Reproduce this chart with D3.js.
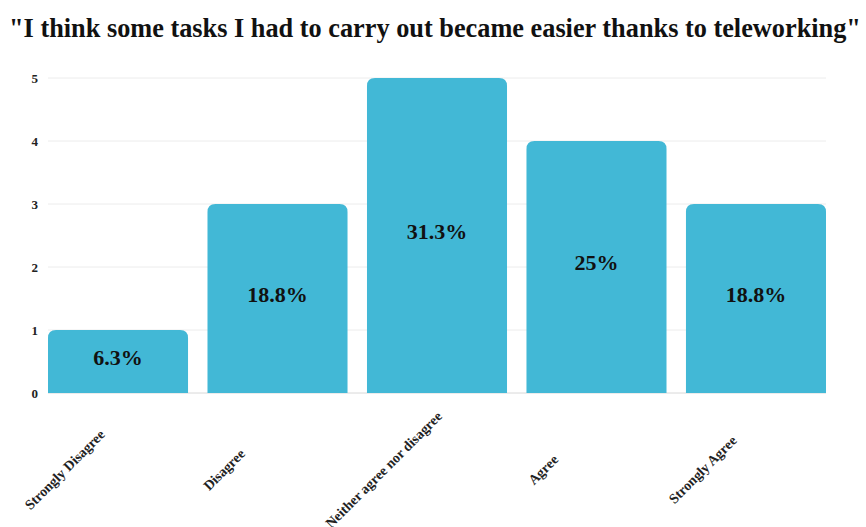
<!DOCTYPE html>
<html>
<head>
<meta charset="utf-8">
<script src="https://cdn.jsdelivr.net/npm/d3@7"></script>
<style>
	body { margin: 0; background: #fff; }
	svg { display: block; font-family: "Liberation Serif", "Times New Roman", serif; }
</style>
</head>
<body>
<svg id="chart" width="866" height="527"></svg>
<script>
const titleText = '"I think some tasks I had to carry out became easier thanks to teleworking"';
const categories = [ 'Strongly Disagree', 'Disagree', 'Neither agree nor disagree', 'Agree', 'Strongly Agree' ];
const counts = [ 1, 3, 5, 4, 3 ];
const percentLabels = [ '6.3%', '18.8%', '31.3%', '25%', '18.8%' ];
const yTicks = [ 0, 1, 2, 3, 4, 5 ];

const svg = d3.select('#chart');
const margin = { left: 48, right: 40, top: 78, bottom: 134 };
const width = 866, height = 527;
const barColor = '#42b8d6';
const serifFont = '"Liberation Serif", "Times New Roman", serif';

let xScale = d3.scaleBand()
	.domain(categories)
	.range([ margin.left, width - margin.right ])
	.paddingInner(0.122)
	.paddingOuter(0);
let yScale = d3.scaleLinear()
	.domain([ 0, 5 ])
	.range([ height - margin.bottom, margin.top ]);

// title
svg.append('text')
	.attr('x', 435)
	.attr('y', 37)
	.attr('text-anchor', 'middle')
	.style('font-family', serifFont)
	.style('font-size', '26.3px')
	.style('font-weight', 'bold')
	.style('fill', '#111')
	.text(titleText);

// grid lines
svg.append('g')
	.selectAll('line')
	.data(yTicks)
	.enter()
	.append('line')
	.attr('x1', margin.left)
	.attr('x2', width - margin.right)
	.attr('y1', d => yScale(d))
	.attr('y2', d => yScale(d))
	.style('stroke', d => d == 0 ? '#d8d8d8' : '#ececec')
	.style('stroke-width', 1);

// y axis labels
let yAxis = d3.axisLeft(yScale).tickValues(yTicks).tickSize(0).tickPadding(0).tickFormat(d3.format('d'));
let yAxisG = svg.append('g')
	.attr('transform', 'translate(' + (margin.left - 10) + ',0)')
	.call(yAxis);
yAxisG.select('.domain').remove();
yAxisG.selectAll('text')
	.style('font-family', serifFont)
	.style('font-size', '13px')
	.style('font-weight', 'bold')
	.style('fill', '#222');

// bars with rounded top corners
let radius = 8;
let barPath = function(d, i) {
	let x0 = xScale(categories[i]);
	let x1 = x0 + xScale.bandwidth();
	let y0 = yScale(0);
	let y1 = yScale(d);
	let r = Math.min(radius, (y0 - y1) / 2);
	return 'M' + x0 + ',' + y0 +
		'V' + (y1 + r) +
		'Q' + x0 + ',' + y1 + ' ' + (x0 + r) + ',' + y1 +
		'H' + (x1 - r) +
		'Q' + x1 + ',' + y1 + ' ' + x1 + ',' + (y1 + r) +
		'V' + y0 + 'Z';
};
svg.append('g')
	.selectAll('path')
	.data(counts)
	.enter()
	.append('path')
	.attr('d', barPath)
	.style('fill', barColor);

// value labels
svg.append('g')
	.selectAll('text')
	.data(counts)
	.enter()
	.append('text')
	.attr('x', (d, i) => xScale(categories[i]) + xScale.bandwidth() / 2)
	.attr('y', d => (yScale(0) + yScale(d)) / 2 + 3)
	.attr('text-anchor', 'middle')
	.style('font-family', serifFont)
	.style('font-size', '22px')
	.style('font-weight', 'bold')
	.style('fill', '#111')
	.text((d, i) => percentLabels[i]);

// category labels, rotated
svg.append('g')
	.selectAll('text')
	.data(categories)
	.enter()
	.append('text')
	.attr('transform', d => 'translate(' + (xScale(d) + xScale.bandwidth() / 2 - 50) + ',473) rotate(-45)')
	.attr('text-anchor', 'middle')
	.style('font-family', serifFont)
	.style('font-size', '14px')
	.style('font-weight', 'bold')
	.style('fill', '#222')
	.text(d => d);
</script>
</body>
</html>
